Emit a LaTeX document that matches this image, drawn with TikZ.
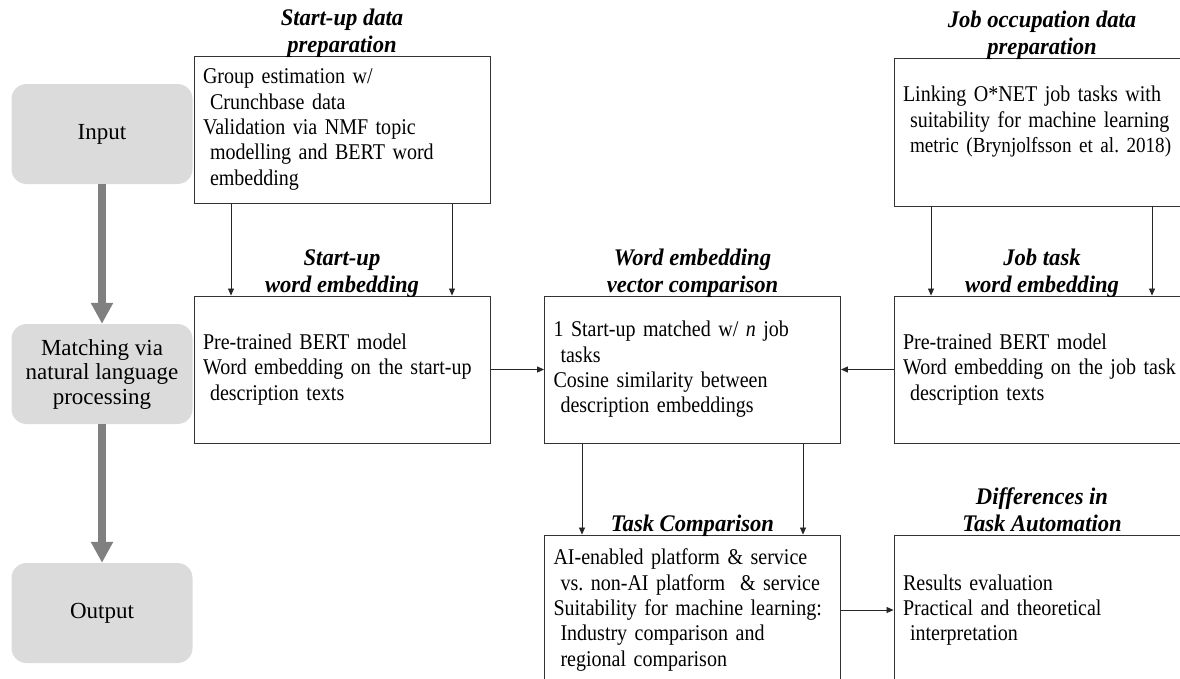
\documentclass[tikz,border=0pt]{standalone}
\usepackage{fontspec}
\setmainfont{Liberation Serif}
\newfontfamily\bodyfont[FakeStretch=0.89]{Liberation Serif}
\newfontfamily\titlefont[FakeStretch=0.95]{Liberation Serif}
\usepackage{tikz}
\usetikzlibrary{arrows.meta}
\frenchspacing

\newcommand{\ind}{\hspace*{7pt}}

\begin{document}
\begin{tikzpicture}[x=1pt, y=-1pt,
    stage/.style={fill=black!14, rounded corners=15pt, minimum width=181pt, minimum height=100pt,
      inner sep=0pt, align=center, font=\fontsize{23}{24.5}\selectfont},
    flowbox/.style={draw=black!80, line width=0.9pt, minimum width=296pt, minimum height=147pt,
      text width=278pt, inner xsep=9pt, inner ysep=0pt, align=left,
      font=\bodyfont\fontsize{22.5}{25.3}\selectfont},
    boxtitle/.style={anchor=south, inner sep=0pt, text depth=0pt, yshift=2.5pt, align=center,
      font=\titlefont\fontsize{23.8}{27}\selectfont\bfseries\itshape},
    link/.style={-{Triangle[length=7pt,width=6pt]}, line width=0.8pt, black!85},
    bigarrow/.style={-{Triangle[length=21pt,width=21pt]}, line width=8pt, black!50}
  ]
  \useasboundingbox (0,0) rectangle (1180,678);
  \clip (0,0) rectangle (1180,678);

  % Stages on the left
  \node[stage] (input) at (102,134) {Input};
  \node[stage] (matching) at (102,374) {Matching via\\natural language\\processing};
  \node[stage] (output) at (102,613) {Output};
  \draw[bigarrow] (input) -- (matching);
  \draw[bigarrow] (matching) -- (output);

  % Start-up side
  \node[flowbox] (suprep) at (342,129.5) {Group estimation w/\\
    \ind Crunchbase data\\
    Validation via NMF topic\\
    \ind modelling and BERT word\\
    \ind embedding};
  \node[boxtitle] (supreptitle) at (suprep.north) {Start-up data\\preparation};
  \node[flowbox] (suword) at (342,369.5) {Pre-trained BERT model\\
    Word embedding on the start-up\\
    \ind description texts};
  \node[boxtitle] (suwordtitle) at (suword.north) {Start-up\\word embedding};

  % Job side
  \node[flowbox, minimum height=148pt] (jobprep) at (1042,132) {Linking O*NET job tasks with\\
    \ind suitability for machine learning\\
    \ind {\fontsize{21.5}{25.3}\selectfont metric (Brynjolfsson et al. 2018)}\\
    ~};
  \node[boxtitle] (jobpreptitle) at (jobprep.north) {Job occupation data\\preparation};
  \node[flowbox] (jobword) at (1042,369.5) {Pre-trained BERT model\\
    Word embedding on the job task\\
    \ind description texts};
  \node[boxtitle] (jobwordtitle) at (jobword.north) {Job task\\word embedding};

  % Comparison and results
  \node[flowbox] (compare) at (692.5,369.5) {1 Start-up matched w/ \textit{n} job\\
    \ind tasks\\
    Cosine similarity between\\
    \ind description embeddings};
  \node[boxtitle] (comparetitle) at (compare.north) {Word embedding\\vector comparison};
  \node[flowbox, minimum height=150pt] (taskcomp) at (692.5,610) {AI-enabled platform \& service\\
    \ind vs. non-AI platform \ \& service\\
    Suitability for machine learning:\\
    \ind Industry comparison and\\
    \ind regional comparison};
  \node[boxtitle] (taskcomptitle) at (taskcomp.north) {Task Comparison};
  \node[flowbox, minimum height=150pt] (diff) at (1042,610) {Results evaluation\\
    Practical and theoretical\\
    \ind interpretation};
  \node[boxtitle] (difftitle) at (diff.north) {Differences in\\Task Automation};

  % Connectors
  \draw[link] ([xshift=-111pt]suprep.south) -- ([xshift=-111pt]suword.north);
  \draw[link] ([xshift=110pt]suprep.south) -- ([xshift=110pt]suword.north);
  \draw[link] ([xshift=-111pt]jobprep.south) -- ([xshift=-111pt]jobword.north);
  \draw[link] ([xshift=110pt]jobprep.south) -- ([xshift=110pt]jobword.north);
  \draw[link] (suword) -- (compare);
  \draw[link] (jobword) -- (compare);
  \draw[link] ([xshift=-110.5pt]compare.south) -- ([xshift=-110.5pt]taskcomp.north);
  \draw[link] ([xshift=110.5pt]compare.south) -- ([xshift=110.5pt]taskcomp.north);
  \draw[link] (taskcomp) -- (diff);
\end{tikzpicture}
\end{document}
